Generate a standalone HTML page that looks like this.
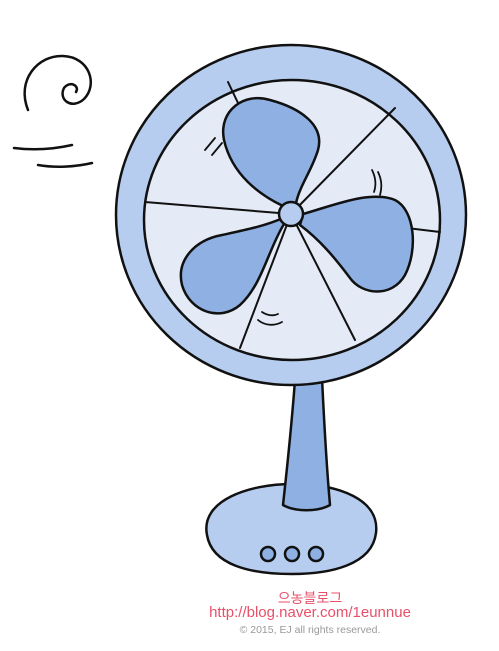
<!DOCTYPE html>
<html><head><meta charset="utf-8"><style>
html,body{margin:0;padding:0;background:#fff;width:499px;height:651px;overflow:hidden}
svg{position:absolute;left:0;top:0}
.t{position:absolute;left:0;width:620px;text-align:center;font-family:"Liberation Sans","Noto Sans CJK KR",sans-serif}
</style></head><body>
<svg width="499" height="651" viewBox="0 0 499 651">
<g stroke="#111" stroke-width="2.5" stroke-linecap="round" stroke-linejoin="round">
<path fill="none" d="M28,110 C16,80 38,55 63,56 C90,57 98,85 84,99 C72,110 58,100 64,88 C70,80 80,86 76,92"/>
<path fill="none" d="M14,148 C30,150 50,150 72,145"/>
<path fill="none" d="M38,165 C55,168 75,167 92,163"/>
<path fill="#b7cdf0" d="M207,535 C200,500 250,484 292,484 C340,484 380,500 376,533 C372,565 330,574 292,574 C250,574 212,565 207,535 Z"/>
<path fill="#8fb0e2" d="M295,380 L322,378 C324,420 326,460 330,505 C318,512 295,512 283,505 C288,460 292,420 295,380 Z"/>
<ellipse cx="291" cy="215" rx="175" ry="170" fill="#b7cdf0"/>
<ellipse cx="292" cy="220" rx="148" ry="140" fill="#e4ebf7"/>
<g fill="none" stroke-width="2">
<path d="M291,214 L228,82"/><path d="M291,214 L395,108"/><path d="M291,214 L440,232"/>
<path d="M291,214 L355,340"/><path d="M291,214 L240,348"/><path d="M291,214 L145,202"/>
</g>
<path fill="#8fb0e2" d="M283,206 C260,195 232,175 224,140 C218,110 245,92 270,100 C300,108 325,125 318,150 C312,170 300,185 296,203 Z"/>
<path fill="#8fb0e2" d="M303,214 C335,205 370,190 395,200 C415,210 418,250 405,275 C392,298 362,295 350,278 C335,258 320,240 300,225 Z"/>
<path fill="#8fb0e2" d="M284,224 C268,250 262,285 240,305 C220,322 190,312 182,285 C176,260 195,240 222,235 C245,230 265,226 283,218 Z"/>
<circle cx="291" cy="214" r="12" fill="#b7cdf0"/>
<g fill="none" stroke-width="1.8">
<path d="M205,150 L215,138"/><path d="M212,155 L222,143"/>
<path d="M378,172 C382,180 382,188 380,195"/><path d="M372,170 C376,178 376,186 374,192"/>
<path d="M258,320 C265,326 275,326 282,322"/><path d="M262,312 C268,316 274,316 278,314"/>
</g>
<circle cx="268" cy="554" r="7" fill="#8fb0e2"/>
<circle cx="292" cy="554" r="7" fill="#8fb0e2"/>
<circle cx="316" cy="554" r="7" fill="#8fb0e2"/>
</g>
</svg>
<div class="t" style="top:588px;color:#e8506a;font-size:14px">으농블로그</div>
<div class="t" style="top:604px;color:#e8506a;font-size:15px">http://blog.naver.com/1eunnue</div>
<div class="t" style="top:624px;color:#999;font-size:10.5px">© 2015, EJ all rights reserved.</div>
</body></html>
